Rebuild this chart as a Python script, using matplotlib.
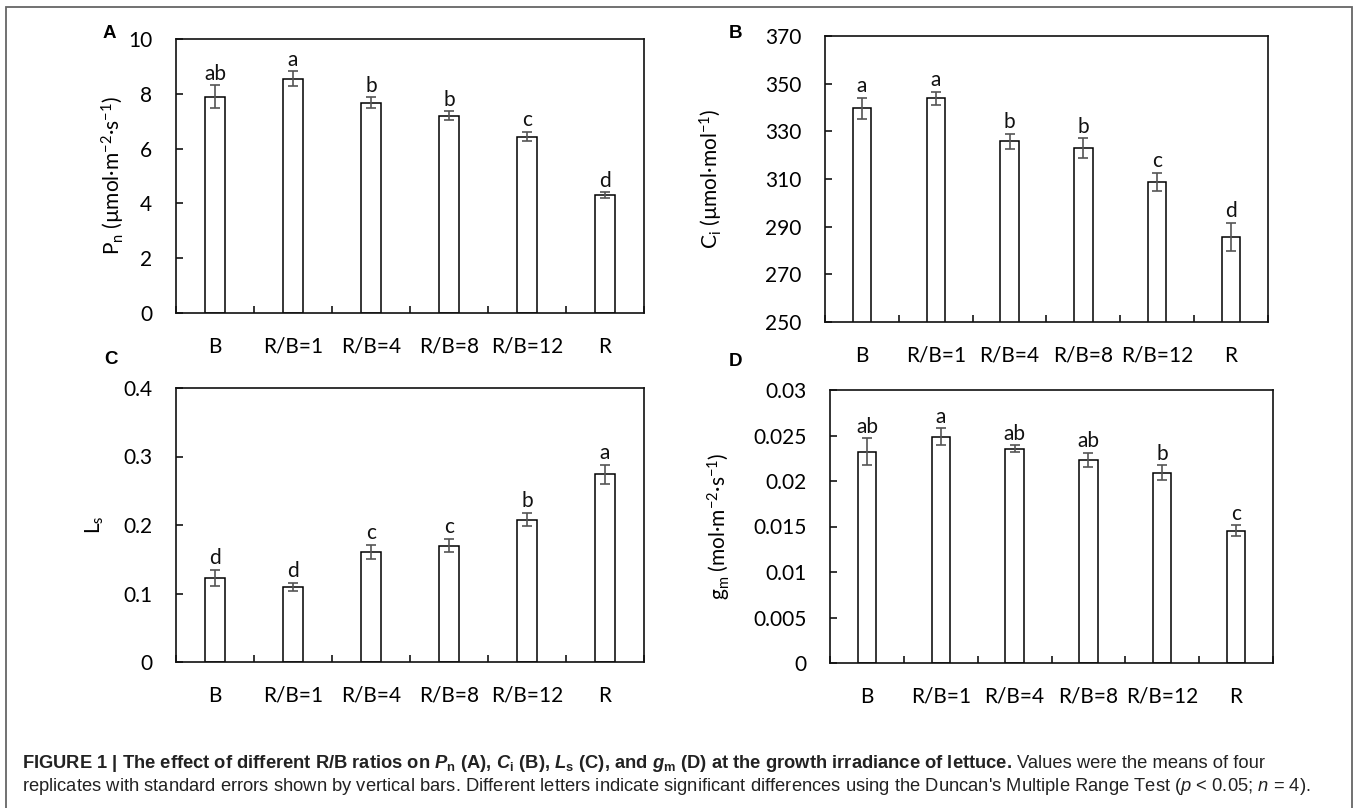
import matplotlib
matplotlib.use('Agg')
import matplotlib.pyplot as plt
from matplotlib.patches import Rectangle

plt.rcParams['font.family'] = ['Lato', 'DejaVu Sans']
plt.rcParams['mathtext.fontset'] = 'custom'
plt.rcParams['mathtext.rm'] = 'Liberation Sans'
plt.rcParams['mathtext.it'] = 'Liberation Sans:italic'
plt.rcParams['mathtext.bf'] = 'Liberation Sans:bold'
plt.rcParams['mathtext.bfit'] = 'Liberation Sans:italic:bold'

# Data
categories = ['B', 'R/B=1', 'R/B=4', 'R/B=8', 'R/B=12', 'R']

pn = [7.9, 8.55, 7.68, 7.2, 6.44, 4.3]
pn_err = [0.42, 0.27, 0.2, 0.16, 0.18, 0.1]
pn_letters = ['ab', 'a', 'b', 'b', 'c', 'd']

ci = [339.6, 343.8, 325.8, 323.0, 308.8, 285.7]
ci_err = [4.5, 2.8, 3.2, 4.0, 3.9, 5.9]
ci_letters = ['a', 'a', 'b', 'b', 'c', 'd']

ls = [0.123, 0.110, 0.161, 0.170, 0.208, 0.274]
ls_err = [0.012, 0.006, 0.010, 0.010, 0.010, 0.014]
ls_letters = ['d', 'd', 'c', 'c', 'b', 'a']

gm = [0.02323, 0.02487, 0.02355, 0.02231, 0.02092, 0.01452]
gm_err = [0.0015, 0.0009, 0.0004, 0.0008, 0.0008, 0.0006]
gm_letters = ['ab', 'a', 'ab', 'ab', 'b', 'c']

pn_ticks = [0, 2, 4, 6, 8, 10]
pn_ticklabels = ['0', '2', '4', '6', '8', '10']
ci_ticks = [250, 270, 290, 310, 330, 350, 370]
ci_ticklabels = ['250', '270', '290', '310', '330', '350', '370']
ls_ticks = [0, 0.1, 0.2, 0.3, 0.4]
ls_ticklabels = ['0', '0.1', '0.2', '0.3', '0.4']
gm_ticks = [0, 0.005, 0.01, 0.015, 0.02, 0.025, 0.03]
gm_ticklabels = ['0', '0.005', '0.01', '0.015', '0.02', '0.025', '0.03']

W, H = 1357, 808
fig = plt.figure(figsize=(W / 100, H / 100), dpi=100)


def px_axes(x0, y0, x1, y1):
    # pixel box (top-left origin) -> figure axes
    return fig.add_axes([x0 / W, (H - y1) / H, (x1 - x0) / W, (y1 - y0) / H])


def panel(ax, vals, errs, letters, ticks, ticklabels, ylabel, label_x):
    n = len(categories)
    x = [i + 0.5 for i in range(n)]
    ax.bar(x, vals, width=0.25, color='white', edgecolor='black', linewidth=1.1, zorder=2)
    ax.errorbar(x, vals, yerr=errs, fmt='none', ecolor='#555555', elinewidth=1.2,
                capsize=3.5, capthick=1.2, zorder=3)
    for xi, v, e, l in zip(x, vals, errs, letters):
        ax.annotate(l, (xi, v + e), xytext=(0, 1), textcoords='offset points',
                    ha='center', va='bottom', fontsize=15, color='#111111')
    ax.set_xlim(0, n)
    ax.set_ylim(ticks[0], ticks[-1])
    ax.set_xticks(x)
    ax.set_xticklabels(categories)
    ax.set_xticks(range(n + 1), minor=True)
    ax.tick_params(axis='x', which='major', length=0, pad=17, labelsize=15)
    ax.tick_params(axis='x', which='minor', direction='in', length=5, width=1.1)
    ax.set_yticks(ticks)
    ax.set_yticklabels(ticklabels)
    ax.tick_params(axis='y', direction='in', length=5, width=1.1, pad=17, labelsize=15)
    for s in ax.spines.values():
        s.set_linewidth(1.2)
        s.set_color('#111111')
    ax.set_ylabel(ylabel, fontsize=15)
    ax.yaxis.set_label_coords(label_x, 0.5)


axA = px_axes(176, 39, 644, 313)
panel(axA, pn, pn_err, pn_letters, pn_ticks, pn_ticklabels,
      r'P$_\mathregular{n}$ (µmol·m$^\mathregular{-2}$·s$^\mathregular{-1}$)', -0.105)
axB = px_axes(825, 36, 1268, 322)
panel(axB, ci, ci_err, ci_letters, ci_ticks, ci_ticklabels,
      r'C$_\mathregular{i}$ (µmol·mol$^\mathregular{-1}$)', -0.226)
axC = px_axes(176, 388, 644, 662)
panel(axC, ls, ls_err, ls_letters, ls_ticks, ls_ticklabels,
      r'L$_\mathregular{s}$', -0.150)
axD = px_axes(830, 390, 1273, 663)
panel(axD, gm, gm_err, gm_letters, gm_ticks, gm_ticklabels,
      r'g$_\mathregular{m}$ (mol·m$^\mathregular{-2}$·s$^\mathregular{-1}$)', -0.219)

# panel letters
for lab, (px, py) in zip('ABCD', [(109, 33), (736, 33), (111, 360), (736, 362)]):
    fig.text(px / W, 1 - py / H, lab, fontsize=13.5, fontweight='bold',
             family='Liberation Sans', ha='center', va='center')

# outer frame
fig.patches.append(Rectangle((6 / W, -0.02), (1352 - 6) / W, 1.02 - 7 / H,
                             transform=fig.transFigure, fill=False,
                             edgecolor='#666666', linewidth=1.3))

# caption
renderer = fig.canvas.get_renderer()
cap_kw = dict(fontsize=13.2, family='Liberation Sans', color='#222222', va='baseline')
t1 = fig.text(22 / W, 1 - 768 / H,
              r'FIGURE 1 | The effect of different R/B ratios on $\mathbfit{P}_\mathbf{n}$ (A), '
              r'$\mathbfit{C}_\mathbf{i}$ (B), $\mathbfit{L}_\mathbf{s}$ (C), and '
              r'$\mathbfit{g}_\mathbf{m}$ (D) at the growth irradiance of lettuce.',
              fontweight='bold', **cap_kw)
bb = t1.get_window_extent(renderer)
fig.text(bb.x1 / W + 5 / W, 1 - 768 / H, 'Values were the means of four', **cap_kw)
fig.text(22 / W, 1 - 791 / H,
         r"replicates with standard errors shown by vertical bars. Different letters indicate "
         r"significant differences using the Duncan's Multiple Range Test "
         r"($\mathit{p}$ < 0.05; $\mathit{n}$ = 4).", **cap_kw)

fig.savefig('out.png', dpi=100)
